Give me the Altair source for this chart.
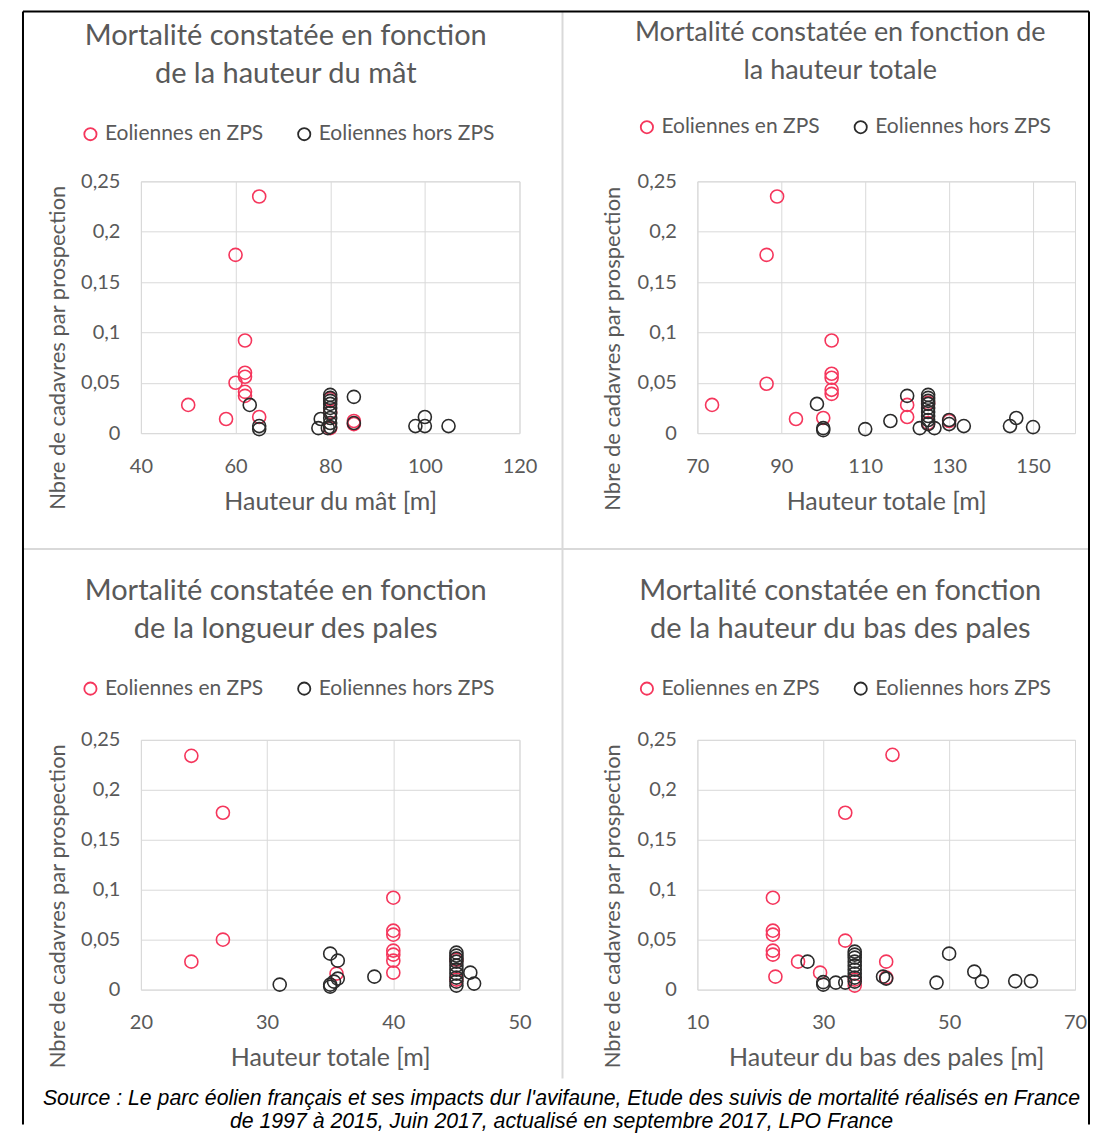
import altair as alt
import pandas as pd

GROUPS = ["Eoliennes en ZPS", "Eoliennes hors ZPS"]
Y_TICKS = [0, 0.05, 0.1, 0.15, 0.2, 0.25]
Y_TITLE = "Nbre de cadavres par prospection"

# Panel 1 : hauteur du mât
mat_zps_x = [65, 60, 62, 62, 62, 60, 62, 62, 50, 58, 65, 80, 80, 80, 85, 85]
mat_zps_y = [0.235, 0.177, 0.092, 0.060, 0.056, 0.050, 0.041, 0.037, 0.028, 0.014, 0.016, 0.034, 0.021, 0.005, 0.012, 0.009]
mat_hors_x = [63, 65, 65, 78, 77.5, 79.5, 80, 80, 80, 80, 80, 80, 80, 80, 80, 85, 85, 98, 100, 100, 105]
mat_hors_y = [0.028, 0.007, 0.004, 0.014, 0.005, 0.005, 0.038, 0.035, 0.032, 0.029, 0.025, 0.020, 0.015, 0.010, 0.006, 0.036, 0.010, 0.007, 0.016, 0.007, 0.007]

# Panel 2 : hauteur totale
tot_zps_x = [89, 86.5, 102, 102, 102, 102, 102, 86.5, 73.5, 93.5, 100, 120, 120, 125, 125, 130]
tot_zps_y = [0.235, 0.177, 0.092, 0.059, 0.055, 0.043, 0.039, 0.049, 0.028, 0.014, 0.015, 0.028, 0.016, 0.030, 0.010, 0.012]
tot_hors_x = [98.5, 100, 100, 110, 116, 120, 123, 125, 125, 125, 125, 125, 125, 125, 125, 125, 126.5, 130, 130, 133.5, 144.5, 146, 150]
tot_hors_y = [0.029, 0.005, 0.003, 0.004, 0.012, 0.037, 0.005, 0.038, 0.035, 0.032, 0.029, 0.025, 0.021, 0.017, 0.013, 0.009, 0.005, 0.013, 0.009, 0.007, 0.007, 0.015, 0.006]

# Panel 3 : longueur des pales
pal_zps_x = [24, 26.5, 26.5, 24, 40, 40, 40, 40, 40, 40, 40, 35.5, 45, 45]
pal_zps_y = [0.234, 0.177, 0.050, 0.028, 0.092, 0.059, 0.055, 0.039, 0.035, 0.029, 0.017, 0.016, 0.030, 0.010]
pal_hors_x = [31, 35, 35.6, 35, 35, 35.3, 35.6, 38.5, 45, 45, 45, 45, 45, 45, 45, 45, 45, 45, 46.1, 46.4]
pal_hors_y = [0.005, 0.036, 0.029, 0.005, 0.003, 0.008, 0.011, 0.013, 0.037, 0.034, 0.031, 0.028, 0.024, 0.020, 0.016, 0.012, 0.008, 0.004, 0.017, 0.006]

# Panel 4 : hauteur du bas des pales
bas_zps_x = [41, 33.5, 22, 22, 22, 22, 22, 22.4, 26, 29.5, 33.5, 40, 40, 35, 35]
bas_zps_y = [0.235, 0.177, 0.092, 0.059, 0.055, 0.039, 0.035, 0.013, 0.028, 0.017, 0.049, 0.028, 0.012, 0.010, 0.004]
bas_hors_x = [27.5, 30, 30, 32, 33.5, 35, 35, 35, 35, 35, 35, 35, 35, 35, 39.5, 40, 48, 50, 54, 55.2, 60.5, 63]
bas_hors_y = [0.028, 0.0075, 0.005, 0.007, 0.007, 0.038, 0.035, 0.032, 0.028, 0.024, 0.020, 0.016, 0.012, 0.008, 0.013, 0.011, 0.007, 0.036, 0.018, 0.008, 0.0085, 0.0085]

TITLES = [
    "Mortalité constatée en fonction\nde la hauteur du mât",
    "Mortalité constatée en fonction de\nla hauteur totale",
    "Mortalité constatée en fonction\nde la longueur des pales",
    "Mortalité constatée en fonction\nde la hauteur du bas des pales",
]
SOURCE = ("Source : Le parc éolien français et ses impacts dur l'avifaune, Etude des suivis de mortalité réalisés en France\n"
          "de 1997 à 2015, Juin 2017, actualisé en septembre 2017, LPO France")

FONT = "Lato"
TXT = "#595959"
RED = "#F5365C"
BLK = "#2b2b2b"
GRID = "#d9d9d9"

W0, W1 = 379, 378
H0, H1 = 252, 250


def make_df(rx, ry, bx, by):
    return pd.DataFrame({
        "x": rx + bx,
        "y": ry + by,
        "g": [GROUPS[0]] * len(rx) + [GROUPS[1]] * len(bx),
    })


def panel(df, xdom, xticks, xtitle, title, w, h, ytx, yty, lx, ly, tx, ty, tsize=29, extra=()):
    pts = alt.Chart(df).mark_point(shape="circle", filled=False, size=170, strokeWidth=1.6, opacity=1).encode(
        x=alt.X("x:Q",
                scale=alt.Scale(domain=xdom, nice=False, zero=False),
                axis=alt.Axis(values=xticks, title=xtitle, labelFlush=False, labelOverlap=False,
                              labelPadding=23, titleY=68, titleBaseline="middle", titleFontSize=25)),
        y=alt.Y("y:Q",
                scale=alt.Scale(domain=[0, 0.25], nice=False),
                axis=alt.Axis(values=Y_TICKS, title=Y_TITLE, labelPadding=21,
                              labelExpr="replace(toString(datum.value), '.', ',')",
                              titleAngle=270, titleX=ytx, titleY=yty, titleAlign="center",
                              titleBaseline="middle", titleFontSize=22)),
        color=alt.Color("g:N", scale=alt.Scale(domain=GROUPS, range=[RED, BLK]),
                        legend=alt.Legend(orient="none", legendX=lx, legendY=ly, direction="horizontal",
                                          title=None, symbolType="circle", symbolSize=150,
                                          symbolStrokeWidth=1.8, labelFont=FONT, labelFontSize=21,
                                          labelColor=TXT, columnPadding=30, labelOffset=4,
                                          labelLimit=400)),
    )
    ttl = alt.Chart(pd.DataFrame({"t": [title]})).mark_text(
        font=FONT, fontSize=tsize, color=TXT, lineBreak="\n", lineHeight=38,
        align="center", baseline="middle").encode(
        x=alt.value(tx), y=alt.value(ty), text="t:N")
    return alt.layer(pts, ttl, *extra).properties(width=w, height=h)


one = pd.DataFrame({"k": [0]})
# frame lines, relative to panel 1 plot origin (140, 180)
vdiv = alt.Chart(one).mark_rule(color=GRID, strokeWidth=2).encode(
    x=alt.value(422), y=alt.value(-170), y2=alt.value(898))
hdiv = alt.Chart(one).mark_rule(color=GRID, strokeWidth=2).encode(
    x=alt.value(-118), x2=alt.value(949), y=alt.value(368))
bl = alt.Chart(one).mark_rule(color="black", strokeWidth=2).encode(
    x=alt.value(-118), y=alt.value(-170), y2=alt.value(944))
bt = alt.Chart(one).mark_rule(color="black", strokeWidth=2).encode(
    x=alt.value(-118), x2=alt.value(949), y=alt.value(-170))
br = alt.Chart(one).mark_rule(color="black", strokeWidth=2).encode(
    x=alt.value(949), y=alt.value(-170), y2=alt.value(944))

src = alt.Chart(pd.DataFrame({"t": [SOURCE]})).mark_text(
    font="Liberation Sans", fontStyle="italic", fontSize=21.3, color="black",
    lineBreak="\n", lineHeight=24, align="center", baseline="middle").encode(
    x=alt.value(421), y=alt.value(359), text="t:N")

p1 = panel(make_df(mat_zps_x, mat_zps_y, mat_hors_x, mat_hors_y), [40, 120], [40, 60, 80, 100, 120],
           "Hauteur du mât [m]", TITLES[0], W0, H0, -83, 166, -61, -58, 145, -145,
           extra=(vdiv, hdiv, bl, bt, br))
p2 = panel(make_df(tot_zps_x, tot_zps_y, tot_hors_x, tot_hors_y), [70, 160], [70, 90, 110, 130, 150],
           "Hauteur totale [m]", TITLES[1], W1, H0, -85, 167, -61, -65, 143, -148, tsize=27)
p3 = panel(make_df(pal_zps_x, pal_zps_y, pal_hors_x, pal_hors_y), [20, 50], [20, 30, 40, 50],
           "Hauteur totale [m]", TITLES[2], W0, H1, -83, 166, -61, -62, 145, -149,
           extra=(src,))
p4 = panel(make_df(bas_zps_x, bas_zps_y, bas_hors_x, bas_hors_y), [10, 70], [10, 30, 50, 70],
           "Hauteur du bas des pales [m]", TITLES[3], W1, H1, -85, 166, -61, -62, 143, -149)

chart = alt.concat(p1, p2, p3, p4, columns=2, spacing={"row": 307, "column": 178}, bounds="flush").resolve_scale(
    x="independent", y="independent", color="independent").resolve_legend(color="independent").resolve_axis(
    x="independent", y="independent").properties(
    padding={"left": 13, "top": 1, "right": 0, "bottom": 0}
).configure_view(stroke=GRID, strokeWidth=1).configure_axis(
    grid=True, gridColor=GRID, gridWidth=1, domain=False, ticks=False,
    labelFont=FONT, labelFontSize=20, labelColor=TXT,
    titleFont=FONT, titleFontWeight="normal", titleColor=TXT)

chart.save("out.html", embed_options={"renderer": "svg", "actions": False})
